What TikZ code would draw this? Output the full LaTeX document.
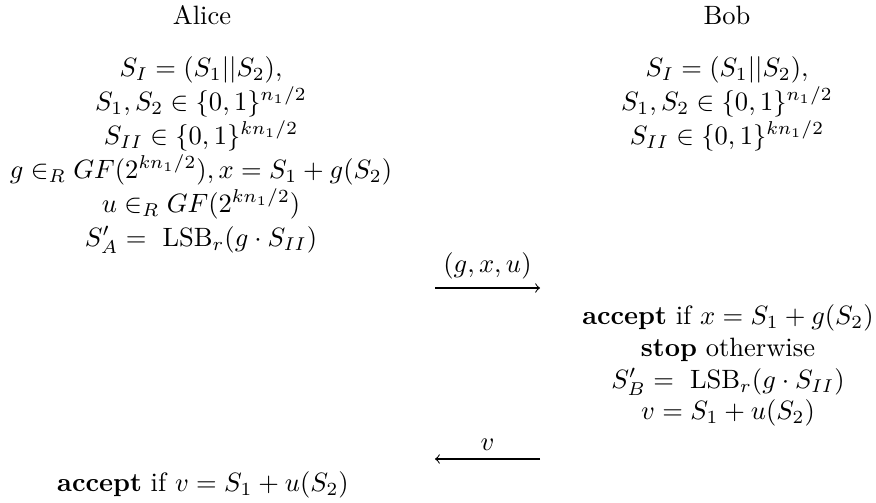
\documentclass[tikz,border=0pt]{standalone}
\usetikzlibrary{arrows.meta}
\begin{document}
\begin{tikzpicture}[x=0.377pt,y=-0.377pt,
  txt/.style={inner sep=0pt, align=center},
  arr/.style={-to, line width=0.4pt}]
\useasboundingbox (0,0) rectangle (876,503);
\node[txt] (alice) at (202,15) {Alice};
\node[txt] (bob) at (727,15) {Bob};
\node[txt, anchor=north] (ablock) at (201,56) {$S_I=(S_1||S_2),$\\[0.8pt]
$S_1,S_2\in\{0,1\}^{n_1/2}$\\[0.8pt]
$S_{II}\in\{0,1\}^{kn_1/2}$\\[0.8pt]
$g\in_R GF(2^{kn_1/2}), x=S_1+g(S_2)$\\[0.8pt]
$u\in_R GF(2^{kn_1/2})$\\[0.8pt]
$S'_A=\ \mathrm{LSB}_r(g\cdot S_{II})$};
\node[txt, anchor=north] (bblock) at (727,56) {$S_I=(S_1||S_2),$\\[0.8pt]
$S_1,S_2\in\{0,1\}^{n_1/2}$\\[0.8pt]
$S_{II}\in\{0,1\}^{kn_1/2}$};
\coordinate (m1s) at (435,288);
\coordinate (m1e) at (540,288);
\draw[arr] (m1s) -- node[txt, above=3pt] (l1) {$(g,x,u)$} (m1e);
\node[txt, anchor=north] (bblock2) at (728,304) {\textbf{accept} if $x=S_1+g(S_2)$\\
\textbf{stop} otherwise\\
$S'_B=\ \mathrm{LSB}_r(g\cdot S_{II})$\\
$v=S_1+u(S_2)$};
\coordinate (m2s) at (540,459);
\coordinate (m2e) at (435,459);
\draw[arr] (m2s) -- node[txt, above=3pt] (l2) {$v$} (m2e);
\node[txt] (afinal) at (203,485) {\textbf{accept} if $v=S_1+u(S_2)$};
\end{tikzpicture}
\end{document}
